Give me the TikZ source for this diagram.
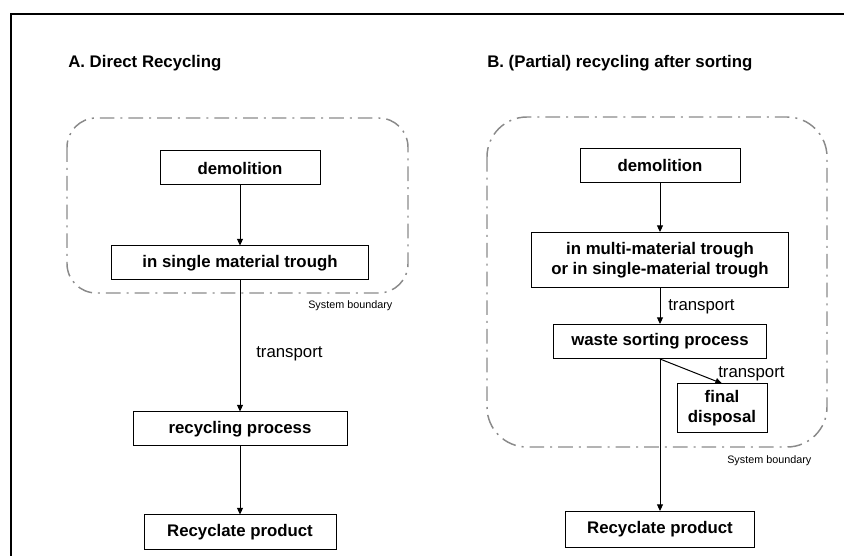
\documentclass[tikz,border=0pt]{standalone}
\usepackage{fontspec}
\setsansfont{Liberation Sans}
\usetikzlibrary{positioning,arrows.meta}
\definecolor{BoundaryGray}{HTML}{8A8A8A}

\begin{document}
\begin{tikzpicture}[
    x=0.75pt, y=-0.75pt,
    node distance=45pt,
    stage/.style={
      draw, line width=0.75pt, align=center,
      font=\sffamily\bfseries\fontsize{12.6}{15}\selectfont,
      minimum height=25.5pt, inner sep=2pt
    },
    title/.style={anchor=base west, inner sep=0pt,
      font=\sffamily\bfseries\fontsize{12.6}{15}\selectfont},
    note/.style={anchor=base west, inner sep=0pt,
      font=\sffamily\fontsize{12.6}{15}\selectfont},
    tag/.style={anchor=base west, inner sep=0pt,
      font=\sffamily\fontsize{8.1}{10}\selectfont},
    boundary/.style={draw=BoundaryGray, line width=1.1pt,
      dash pattern=on 11pt off 4.5pt on 1.5pt off 4.5pt},
    flow/.style={-{Triangle[length=5pt,width=4.5pt]}, line width=0.75pt}
  ]
  \useasboundingbox (0,0) rectangle (844,556);
  \draw[line width=1.5pt] (844,14) -- (11,14) -- (11,556);

  % A. direct recycling
  \node[title] (titleA) at (68,68) {A. Direct Recycling};
  \draw[boundary, rounded corners=22pt] (67,118) rectangle (408,293);
  \node[stage, minimum width=120pt] (demA) at (240,168) {demolition};
  \node[stage, minimum width=192.75pt, below=45pt of demA] (troughA)
    {in single material trough};
  \node[stage, minimum width=160.5pt, below=98.25pt of troughA] (recA)
    {recycling process};
  \node[stage, minimum width=144pt, below=51pt of recA] (prodA)
    {Recyclate product};
  \node[tag] (sysA) at (308,309) {System boundary};
  \node[note] (transA) at (256,358) {transport};
  \draw[flow] (demA) -- (troughA);
  \draw[flow] (troughA) -- (recA);
  \draw[flow] (recA) -- (prodA);

  % B. (partial) recycling after sorting
  \node[title] (titleB) at (487,68) {B. (Partial) recycling after sorting};
  \draw[boundary, rounded corners=30pt] (487,117) rectangle (827,447);
  \node[stage, minimum width=120pt] (demB) at (660,165.5) {demolition};
  \node[stage, minimum width=192.75pt, minimum height=41.25pt,
    below=36.75pt of demB] (troughB)
    {in multi-material trough\\or in single-material trough};
  \node[stage, minimum width=159.75pt, below=27pt of troughB] (sortB)
    {waste sorting process};
  \node[stage, minimum width=67.5pt, minimum height=36.75pt] (dispB)
    at (722,408.5) {final\\disposal};
  \node[stage, minimum width=141.75pt, minimum height=27pt,
    below=114pt of sortB] (prodB) {Recyclate product};
  \node[tag] (sysB) at (727,464) {System boundary};
  \node[note] (transB) at (668,311) {transport};
  \node[note] (transC) at (718,378) {transport};
  \draw[flow] (demB) -- (troughB);
  \draw[flow] (troughB) -- (sortB);
  \draw[flow] (sortB.south) -- (dispB.north);
  \draw[flow] (sortB.south) -- (sortB.south |- prodB.north);
\end{tikzpicture}
\end{document}
